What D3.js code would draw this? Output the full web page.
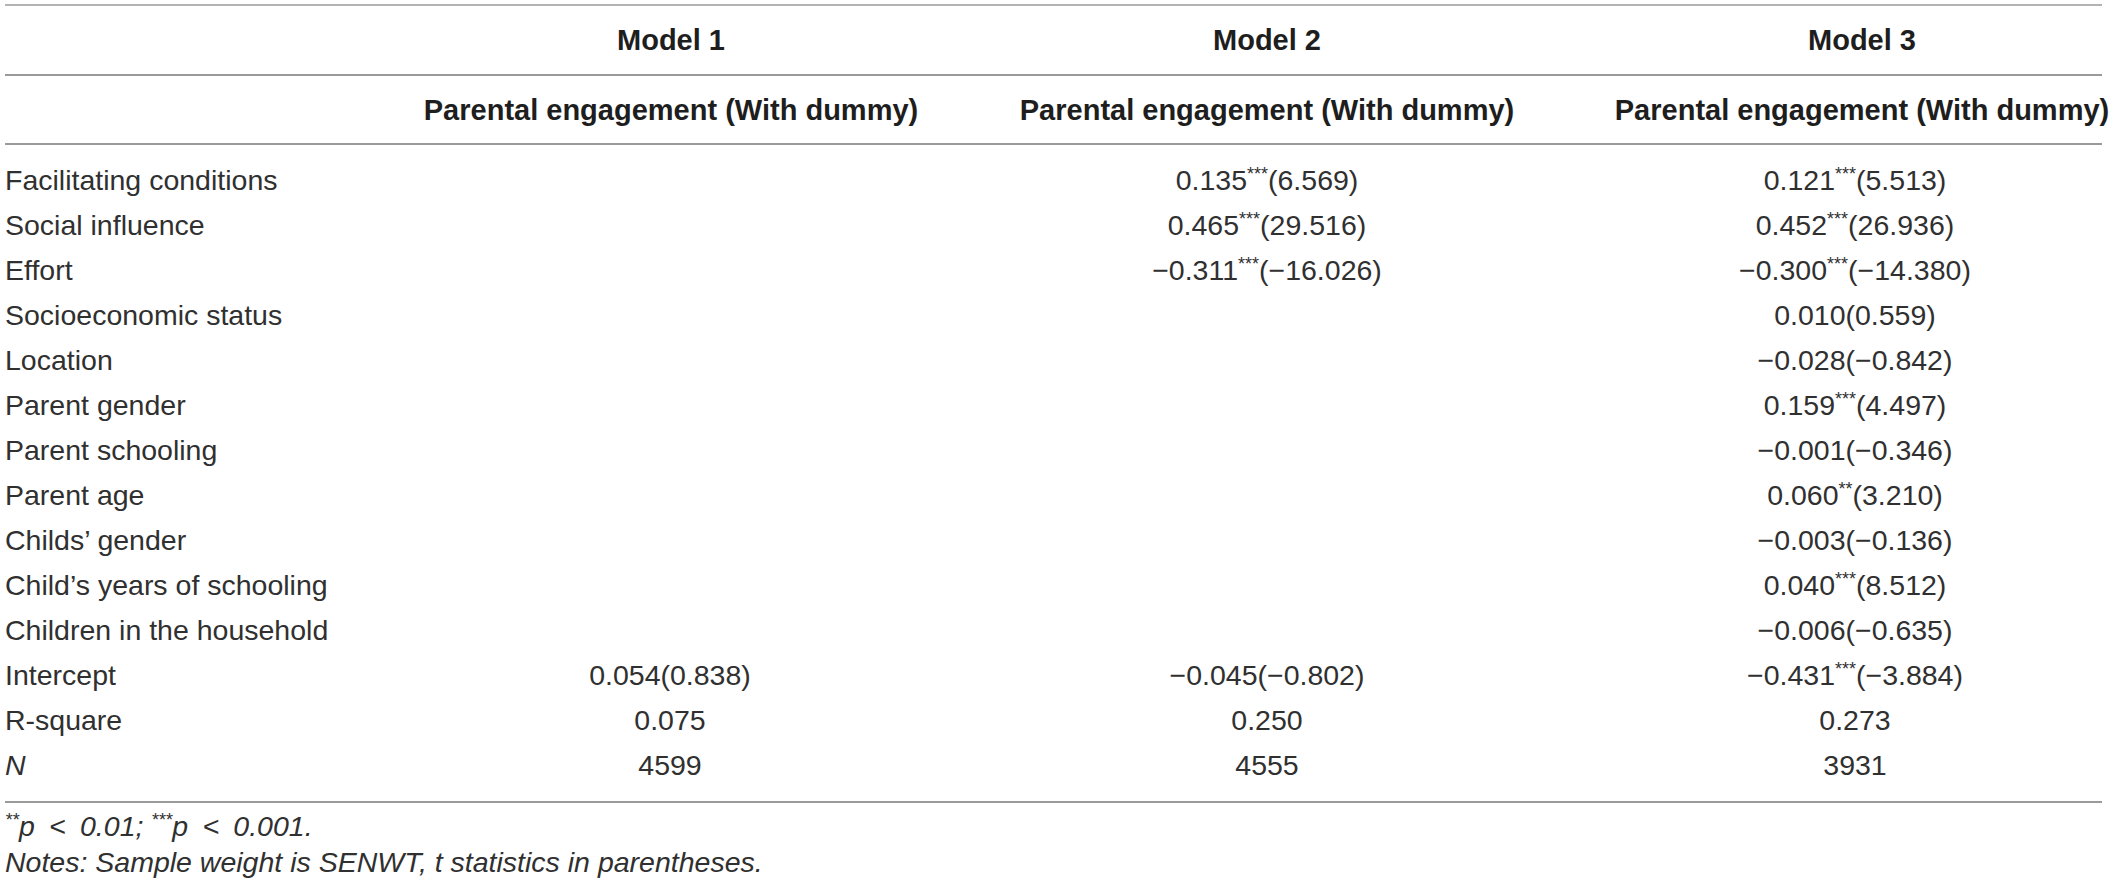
<!DOCTYPE html>
<html>
<head>
<meta charset="utf-8">
<script src="https://cdn.jsdelivr.net/npm/d3@7"></script>
<style>
  html, body { margin: 0; padding: 0; background: #fff; }
  svg { display: block; }
  text { font-family: "Liberation Sans", Arial, Helvetica, sans-serif; fill: #303030; }
  .head { font-weight: bold; font-size: 29px; fill: #1e1e1e; }
  .cell { font-size: 28.5px; }
  .note { font-size: 28.5px; font-style: italic; }
</style>
</head>
<body>
<svg id="table" width="2117" height="887"></svg>
<script>
// table content
const models   = ['Model 1', 'Model 2', 'Model 3'];
const depVar   = ['Parental engagement (With dummy)', 'Parental engagement (With dummy)', 'Parental engagement (With dummy)'];
const variables = [
  'Facilitating conditions', 'Social influence', 'Effort', 'Socioeconomic status',
  'Location', 'Parent gender', 'Parent schooling', 'Parent age', 'Childs\u2019 gender',
  'Child\u2019s years of schooling', 'Children in the household', 'Intercept', 'R-square', 'N'
];
const model1 = ['', '', '', '', '', '', '', '', '', '', '', '0.054(0.838)', '0.075', '4599'];
const model2 = ['0.135***(6.569)', '0.465***(29.516)', '\u22120.311***(\u221216.026)',
  '', '', '', '', '', '', '', '', '\u22120.045(\u22120.802)', '0.250', '4555'];
const model3 = ['0.121***(5.513)', '0.452***(26.936)', '\u22120.300***(\u221214.380)',
  '0.010(0.559)', '\u22120.028(\u22120.842)', '0.159***(4.497)', '\u22120.001(\u22120.346)',
  '0.060**(3.210)', '\u22120.003(\u22120.136)', '0.040***(8.512)', '\u22120.006(\u22120.635)',
  '\u22120.431***(\u22123.884)', '0.273', '3931'];
const footnotes = ['**p\u2002<\u20020.01; ***p\u2002<\u20020.001.', 'Notes: Sample weight is SENWT, t statistics in parentheses.'];

const left = 5, right = 2102;
const svg = d3.select('#table');

var headX = d3.scaleOrdinal().domain(models).range([671, 1267, 1862]);
var valX  = d3.scaleOrdinal().domain(models).range([670, 1267, 1855]);
var rowY  = d3.scalePoint().domain(d3.range(variables.length)).range([190, 775]);

// horizontal rules
var rules = [5, 75, 144, 802];
svg.selectAll('line.rule')
  .data(rules)
  .enter()
  .append('line')
  .attr('class', 'rule')
  .attr('x1', left).attr('x2', right)
  .attr('y1', d => d).attr('y2', d => d)
  .style('stroke', '#9a9a9a')
  .style('stroke-width', (d, i) => i == 0 ? 1.5 : 2);

// header rows
svg.selectAll('text.model')
  .data(models)
  .enter()
  .append('text')
  .attr('class', 'head model')
  .attr('x', d => headX(d))
  .attr('y', 50)
  .attr('text-anchor', 'middle')
  .text(d => d);

svg.selectAll('text.dep')
  .data(depVar)
  .enter()
  .append('text')
  .attr('class', 'head dep')
  .attr('x', (d, i) => headX(models[i]))
  .attr('y', 120)
  .attr('text-anchor', 'middle')
  .text(d => d);

// splits "0.135***(6.569)" into pieces so the stars can be raised
function addRich(sel, str) {
  var parts = str.split(/(\*+)/).filter(s => s.length);
  var raised = false;
  parts.forEach(p => {
    var t = sel.append('tspan').text(p);
    if (/^\*+$/.test(p)) {
      t.attr('dy', -10).style('font-size', '18px');
      raised = true;
    } else if (raised) {
      t.attr('dy', 10);
      raised = false;
    }
  });
}

// row labels
svg.selectAll('text.var')
  .data(variables)
  .enter()
  .append('text')
  .attr('class', 'cell var')
  .attr('x', left)
  .attr('y', (d, i) => rowY(i))
  .style('font-style', d => d == 'N' ? 'italic' : null)
  .text(d => d);

// value columns
[model1, model2, model3].forEach((col, ci) => {
  svg.selectAll('text.v' + ci)
    .data(col)
    .enter()
    .append('text')
    .attr('class', 'cell v' + ci)
    .attr('x', valX(models[ci]))
    .attr('y', (d, i) => rowY(i))
    .attr('text-anchor', 'middle')
    .each(function(d) { if (d) addRich(d3.select(this), d); });
});

// footnotes
svg.selectAll('text.note')
  .data(footnotes)
  .enter()
  .append('text')
  .attr('class', 'note')
  .attr('x', left)
  .attr('y', (d, i) => 836 + i * 36)
  .each(function(d) { addRich(d3.select(this), d); });
</script>
</body>
</html>
